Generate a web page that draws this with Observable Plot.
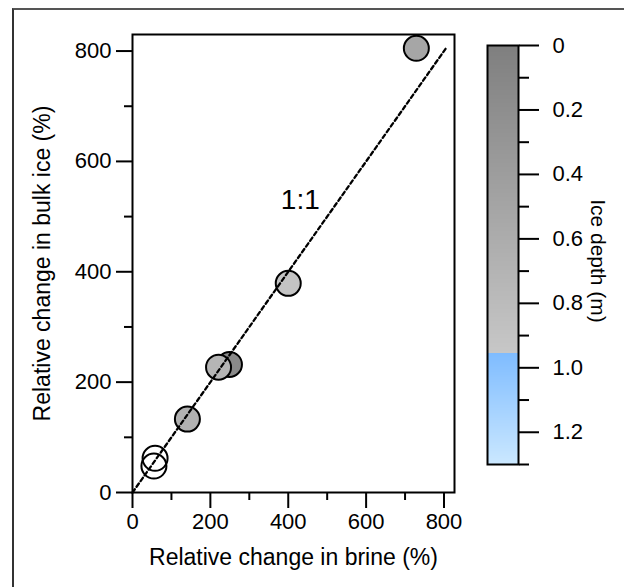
<!DOCTYPE html>
<html>
<head>
<meta charset="utf-8">
<script src="https://cdn.jsdelivr.net/npm/d3@7"></script>
<script src="https://cdn.jsdelivr.net/npm/@observablehq/plot@0.6"></script>
<style>
  html, body { margin: 0; padding: 0; background: #fff; overflow: hidden; }
  #wrap { position: relative; width: 624px; height: 587px; font-family: "Liberation Sans", Arial, sans-serif; background: #fff; }
  #wrap svg { position: absolute; left: 0; top: 0; background: transparent; }
  #outer { position: absolute; left: 12px; top: 8px; width: 900px; height: 900px; z-index: 10; pointer-events: none;
           border-top: 2px solid #555; border-left: 2px solid #333; }
</style>
</head>
<body>
<div id="wrap"></div>
<script>
// ---- data ----
const brine = [729, 400, 249, 221, 141, 58, 55];     // relative change in brine (%)
const bulk  = [805, 379, 232, 227, 133, 62, 48];     // relative change in bulk ice (%)
const depth = [0.52, 0.92, 0.14, 0.71, 0.66, null, null]; // ice depth (m), null = open symbol
const oneToOneX = [0, 805];
const oneToOneY = [0, 805];
const xTicks = [0, 200, 400, 600, 800];
const xMinor = [100, 300, 500, 700];
const yTicks = [0, 200, 400, 600, 800];
const yMinor = [100, 300, 500, 700];
const cbTicks = [0, 0.2, 0.4, 0.6, 0.8, 1.0, 1.2];
const cbMinor = [0.1, 0.3, 0.5, 0.7, 0.9, 1.1, 1.3];
const colorStops = [0, 0.955, 0.9551, 1.3];
const colorRange = ["#7f7f7f", "#c7c7c7", "#7fbcff", "#cbe8ff"];

const pts = brine.map((b, i) => ({brine: b, bulk: bulk[i], depth: depth[i]}));
const filled = pts.filter(d => d.depth != null);
const open = pts.filter(d => d.depth == null);
const line = oneToOneX.map((x, i) => ({x, y: oneToOneY[i]}));

const FONT = "Liberation Sans, Arial, sans-serif";
const FS = 22;
const colorOpt = {type: "linear", domain: colorStops, range: colorRange, interpolate: "rgb"};

const main = Plot.plot({
  width: 624, height: 587,
  marginLeft: 132, marginRight: 170, marginTop: 34, marginBottom: 95,
  style: {fontFamily: FONT, fontSize: FS + "px", color: "black", background: "transparent"},
  x: {domain: [0, 827]},
  y: {domain: [0, 830]},
  color: colorOpt,
  marks: [
    Plot.dot(filled, {x: "brine", y: "bulk", r: 12.5, fill: "depth", stroke: "black", strokeWidth: 2}),
    Plot.dot(open, {x: "brine", y: "bulk", r: 12.5, fill: "none", stroke: "black", strokeWidth: 2}),
    Plot.line(line, {x: "x", y: "y", stroke: "black", strokeWidth: 2.3, strokeDasharray: "4,3"}),
    Plot.text(["1:1"], {x: [431], y: [530], fontSize: 28, fill: "black"}),
    Plot.axisX({ticks: xTicks, tickSize: 16, tickPadding: 5, fontSize: FS, strokeWidth: 2, label: null}),
    Plot.axisX({ticks: xMinor, tickSize: 8, tickFormat: () => "", strokeWidth: 2, label: null}),
    Plot.axisY({ticks: yTicks, tickSize: 16, tickPadding: 5, fontSize: FS, strokeWidth: 2, label: null}),
    Plot.axisY({ticks: yMinor, tickSize: 8, tickFormat: () => "", strokeWidth: 2, label: null}),
    Plot.frame({stroke: "black", strokeWidth: 2}),
    Plot.text(["Relative change in brine (%)"], {frameAnchor: "bottom", dy: 72, fontSize: FS + 1, fill: "black"}),
    Plot.text(["Relative change in bulk ice (%)"], {frameAnchor: "left", textAnchor: "middle", rotate: -90, dx: -90, fontSize: FS + 1, fill: "black"})
  ]
});

const cbar = Plot.plot({
  width: 624, height: 587,
  marginLeft: 487, marginRight: 106, marginTop: 45, marginBottom: 123,
  style: {fontFamily: FONT, fontSize: FS + "px", color: "black", background: "transparent"},
  x: {domain: [0, 1], axis: null},
  y: {domain: [0, 1.3], reverse: true},
  color: colorOpt,
  marks: [
    Plot.raster({x1: 0, x2: 1, y1: 0, y2: 1.3, width: 1, height: 1300, fill: (x, y) => y, imageRendering: "pixelated"}),
    Plot.axisY({anchor: "right", ticks: cbTicks, tickSize: 20, tickPadding: 14, fontSize: FS, strokeWidth: 2, label: null,
                tickFormat: d => d === 0 ? "0" : d.toFixed(1)}),
    Plot.axisY({anchor: "right", ticks: cbMinor, tickSize: 10, tickFormat: () => "", strokeWidth: 2, label: null}),
    Plot.frame({stroke: "black", strokeWidth: 2}),
    Plot.text(["Ice depth (m)"], {frameAnchor: "right", textAnchor: "middle", rotate: 90, dx: 79, dy: 6, fontSize: FS - 1, fill: "black"})
  ]
});

const wrap = document.getElementById("wrap");
wrap.appendChild(main);
wrap.appendChild(cbar);
const outer = document.createElement("div");
outer.id = "outer";
wrap.appendChild(outer);
</script>
</body>
</html>
